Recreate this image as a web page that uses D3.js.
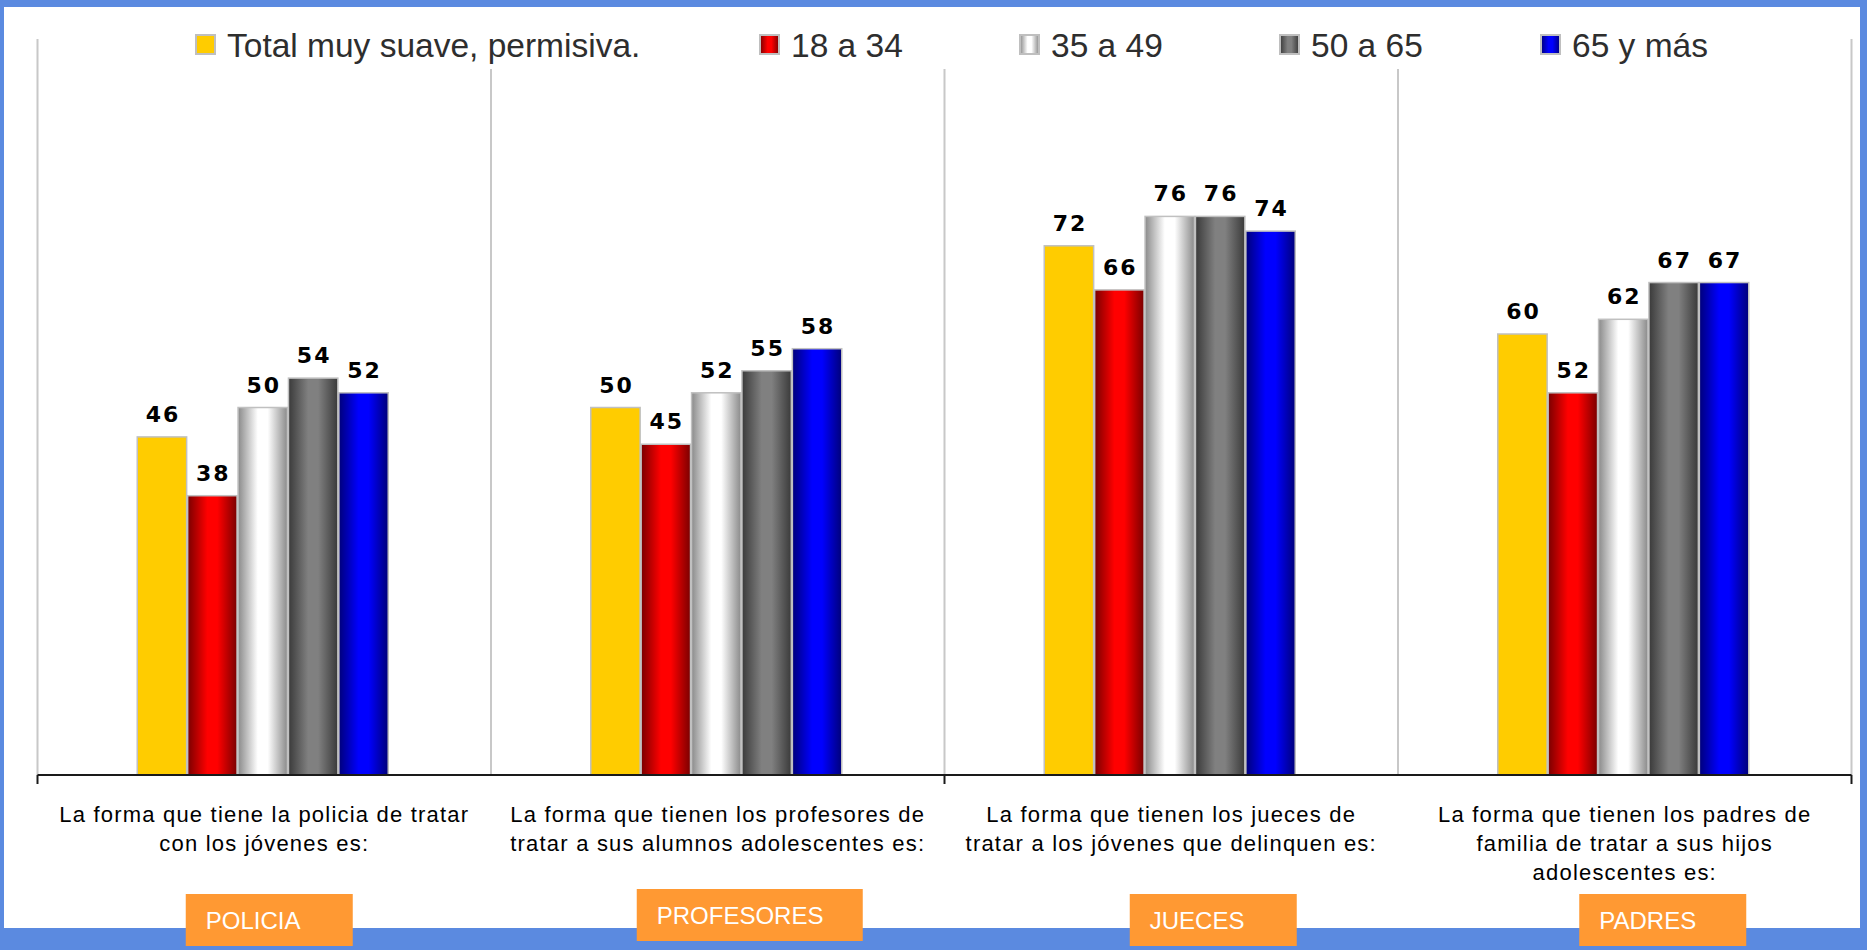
<!DOCTYPE html>
<html>
<head>
<meta charset="utf-8">
<script src="https://cdn.jsdelivr.net/npm/d3@7"></script>
<style>
  html, body { margin: 0; padding: 0; background: #ffffff; }
  svg { display: block; }
</style>
</head>
<body>
<script>
var width = 1867, height = 950;

// data
var categories = ["POLICIA", "PROFESORES", "JUECES", "PADRES"];
var series = ["Total muy suave, permisiva.", "18 a 34", "35 a 49", "50 a 65", "65 y más"];
var policia    = [46, 38, 50, 54, 52];
var profesores = [50, 45, 52, 55, 58];
var jueces     = [72, 66, 76, 76, 74];
var padres     = [60, 52, 62, 67, 67];
var categoryText = [
  ["La forma que tiene la policia de tratar", "con los jóvenes es:"],
  ["La forma que tienen los profesores de", "tratar a sus alumnos adolescentes es:"],
  ["La forma que tienen los jueces de", "tratar a los jóvenes que delinquen es:"],
  ["La forma que tienen los padres de", "familia de tratar a sus hijos", "adolescentes es:"]
];

var values = [policia, profesores, jueces, padres];

// colores: [borde, centro] para el degradado horizontal
var barColors = [
  ["#ffcc00", "#ffcc00"],
  ["#7a0000", "#ff0000"],
  ["#8a8a8a", "#ffffff"],
  ["#3a3a3a", "#808080"],
  ["#00007a", "#0000ff"]
];

var svg = d3.select("body").append("svg")
  .attr("width", width)
  .attr("height", height);

// marco azul
var frame = "#5b8ae0";
svg.append("rect").attr("x", 0).attr("y", 0).attr("width", width).attr("height", height).attr("fill", frame);
svg.append("rect").attr("x", 4).attr("y", 7).attr("width", width - 11).attr("height", 921).attr("fill", "#ffffff");

var defs = svg.append("defs");
barColors.forEach(function(c, i) {
  var g = defs.append("linearGradient").attr("id", "grad" + i)
    .attr("x1", "0%").attr("x2", "100%").attr("y1", "0%").attr("y2", "0%");
  g.append("stop").attr("offset", "0%").attr("stop-color", c[0]);
  g.append("stop").attr("offset", "40%").attr("stop-color", c[1]);
  g.append("stop").attr("offset", "60%").attr("stop-color", c[1]);
  g.append("stop").attr("offset", "100%").attr("stop-color", c[0]);
});

var plotLeft = 37.5, plotRight = 1851.5, plotTop = 40, baseY = 775;

var x0 = d3.scaleBand().domain(categories).range([plotLeft, plotRight]).padding(0);
var groupW = 251;
var x1 = d3.scaleBand().domain(series).range([0, groupW]).paddingInner(0.02);
var y = d3.scaleLinear().domain([0, 100]).range([baseY, plotTop]);

// lineas divisorias
var dividers = [plotLeft].concat(categories.map(function(c) { return x0(c) + x0.bandwidth(); }));
svg.selectAll(".divider").data(dividers).enter().append("line")
  .attr("class", "divider")
  .attr("x1", function(d) { return d; })
  .attr("x2", function(d) { return d; })
  .attr("y1", function(d, i) { return (i == 0 || i == dividers.length - 1) ? 39 : 69; })
  .attr("y2", baseY)
  .attr("stroke", "#c8c8c8")
  .attr("stroke-width", 2);

// barras
var groups = svg.selectAll(".grupo").data(categories).enter().append("g")
  .attr("class", "grupo")
  .attr("transform", function(d) { return "translate(" + (x0(d) + (x0.bandwidth() - groupW) / 2 - 1.5) + ",0)"; });

groups.selectAll("rect").data(function(d, i) {
    return values[i].map(function(v, j) { return {serie: series[j], value: v, idx: j}; });
  }).enter().append("rect")
  .attr("x", function(d) { return x1(d.serie); })
  .attr("y", function(d) { return y(d.value); })
  .attr("width", x1.bandwidth())
  .attr("height", function(d) { return baseY - y(d.value); })
  .attr("fill", function(d) { return "url(#grad" + d.idx + ")"; })
  .attr("stroke", "#c0c0c0")
  .attr("stroke-width", 1.5);

groups.selectAll("text").data(function(d, i) {
    return values[i].map(function(v, j) { return {serie: series[j], value: v}; });
  }).enter().append("text")
  .attr("x", function(d) { return x1(d.serie) + x1.bandwidth() / 2 + 1; })
  .attr("y", function(d) { return y(d.value) - 15; })
  .attr("text-anchor", "middle")
  .style("font-family", "'DejaVu Sans', Verdana, sans-serif")
  .style("font-weight", "bold")
  .style("font-size", "22px")
  .style("letter-spacing", "2px")
  .attr("fill", "#000")
  .text(function(d) { return d.value; });

// eje
svg.append("line")
  .attr("x1", plotLeft).attr("x2", plotRight)
  .attr("y1", baseY).attr("y2", baseY)
  .attr("stroke", "#1a1a1a").attr("stroke-width", 2);
svg.selectAll(".tick").data([dividers[0], dividers[2], dividers[4]]).enter().append("line")
  .attr("x1", function(d) { return d; }).attr("x2", function(d) { return d; })
  .attr("y1", baseY).attr("y2", baseY + 9)
  .attr("stroke", "#1a1a1a").attr("stroke-width", 2);

// etiquetas de categoria
categoryText.forEach(function(lines, i) {
  var cx = x0(categories[i]) + x0.bandwidth() / 2;
  var t = svg.append("text")
    .attr("text-anchor", "middle")
    .style("font-family", "'Liberation Sans', Arial, sans-serif")
    .style("font-size", "22px")
    .style("letter-spacing", "1.2px")
    .attr("fill", "#000");
  lines.forEach(function(l, k) {
    t.append("tspan").attr("x", cx).attr("y", 822 + k * 29).text(l);
  });
});

// etiquetas naranjas
var tagLayout = [
  {dx: 5, y: 894, w: 167},
  {dx: 32, y: 889, w: 226},
  {dx: 42, y: 894, w: 167},
  {dx: 38, y: 894, w: 167}
];
categories.forEach(function(c, i) {
  var cx = x0(c) + x0.bandwidth() / 2 + tagLayout[i].dx;
  var L = tagLayout[i];
  svg.append("rect")
    .attr("x", cx - L.w / 2).attr("y", L.y)
    .attr("width", L.w).attr("height", 52)
    .attr("fill", "#ff9933");
  svg.append("text")
    .attr("x", cx - L.w / 2 + 20).attr("y", L.y + 35)
    .style("font-family", "'Liberation Sans', Arial, sans-serif")
    .style("font-size", "24px")
    .attr("fill", "#ffffff")
    .text(c);
});

// leyenda
var legendX = [196, 760, 1020, 1280, 1541];
var legend = svg.selectAll(".leg").data(series).enter().append("g")
  .attr("class", "leg")
  .attr("transform", function(d, i) { return "translate(" + legendX[i] + ",35)"; });
legend.append("rect")
  .attr("width", 19).attr("height", 19)
  .attr("fill", function(d, i) { return "url(#grad" + i + ")"; })
  .attr("stroke", "#bfbfbf").attr("stroke-width", 2);
legend.append("text")
  .attr("x", 31).attr("y", 22)
  .style("font-family", "'Liberation Sans', Arial, sans-serif")
  .style("font-size", "33.5px")
  .attr("fill", "#2e2e2e")
  .text(function(d) { return d; });
</script>
</body>
</html>
